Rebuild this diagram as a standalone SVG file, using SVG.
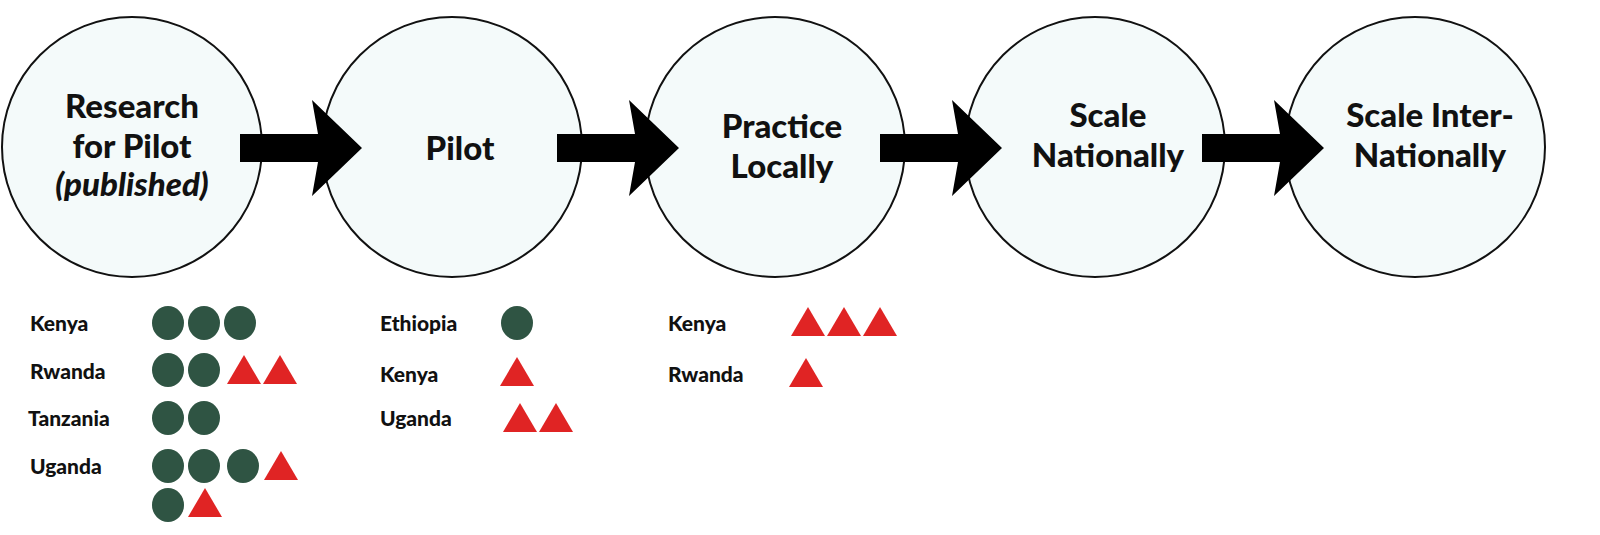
<svg xmlns="http://www.w3.org/2000/svg" width="1600" height="535" viewBox="0 0 1600 535">
<style>
.n{fill:#f4fafa;stroke:#111;stroke-width:2}
.t{font-family:Lato,"Open Sans",sans-serif;font-weight:900;font-size:33px;fill:#111;text-anchor:middle}
.l{font-family:Lato,"Open Sans",sans-serif;font-weight:900;font-size:21px;fill:#111}
.d{fill:#2f5443}
.r{fill:#e02424}
</style>
<defs>
<ellipse id="c" class="d" rx="16" ry="17"/>
<polygon id="tr" class="r" points="0,-15 17,14 -17,14"/>
</defs>
<rect width="1600" height="535" fill="#fff"/>
<g id="n1"><circle class="n" cx="132" cy="147" r="130"/>
<text class="t" x="132" y="118">Research</text><text class="t" x="132" y="158">for Pilot</text><text class="t" x="132" y="196" font-style="italic">(published)</text></g>
<g id="n2"><circle class="n" cx="452" cy="147" r="130"/><text class="t" x="460" y="160">Pilot</text></g>
<g id="n3"><circle class="n" cx="775" cy="147" r="130"/><text class="t" x="782" y="138">Practice</text><text class="t" x="782" y="178">Locally</text></g>
<g id="n4"><circle class="n" cx="1095" cy="147" r="130"/><text class="t" x="1108" y="127">Scale</text><text class="t" x="1108" y="167">Nationally</text></g>
<g id="n5"><circle class="n" cx="1415" cy="147" r="130"/><text class="t" x="1430" y="127">Scale Inter-</text><text class="t" x="1430" y="167">Nationally</text></g>
<g id="connectors" fill="#000">
<polygon points="240,134 318,134 312,100 362,148 312,196 318,162 240,162"/>
<polygon points="557,134 635,134 629,100 679,148 629,196 635,162 557,162"/>
<polygon points="880,134 958,134 952,100 1002,148 952,196 958,162 880,162"/>
<polygon points="1202,134 1280,134 1274,100 1324,148 1274,196 1280,162 1202,162"/>
</g>
<g id="list1">
<text class="l" x="30" y="331">Kenya</text>
<use href="#c" x="168" y="323"/><use href="#c" x="204" y="323"/><use href="#c" x="240" y="323"/>
<text class="l" x="30" y="379">Rwanda</text>
<use href="#c" x="168" y="370"/><use href="#c" x="204" y="370"/><use href="#tr" x="244" y="370"/><use href="#tr" x="280" y="370"/>
<text class="l" x="28" y="426">Tanzania</text>
<use href="#c" x="168" y="418"/><use href="#c" x="204" y="418"/>
<text class="l" x="30" y="474">Uganda</text>
<use href="#c" x="168" y="466"/><use href="#c" x="204" y="466"/><use href="#c" x="243" y="466"/><use href="#tr" x="281" y="466"/>
<use href="#c" x="168" y="505"/><use href="#tr" x="205" y="503"/>
</g>
<g id="list2">
<text class="l" x="380" y="331">Ethiopia</text><use href="#c" x="517" y="323"/>
<text class="l" x="380" y="382">Kenya</text><use href="#tr" x="517" y="372"/>
<text class="l" x="380" y="426">Uganda</text><use href="#tr" x="520" y="418"/><use href="#tr" x="556" y="418"/>
</g>
<g id="list3">
<text class="l" x="668" y="331">Kenya</text><use href="#tr" x="808" y="322"/><use href="#tr" x="844" y="322"/><use href="#tr" x="880" y="322"/>
<text class="l" x="668" y="382">Rwanda</text><use href="#tr" x="806" y="373"/>
</g>
</svg>
